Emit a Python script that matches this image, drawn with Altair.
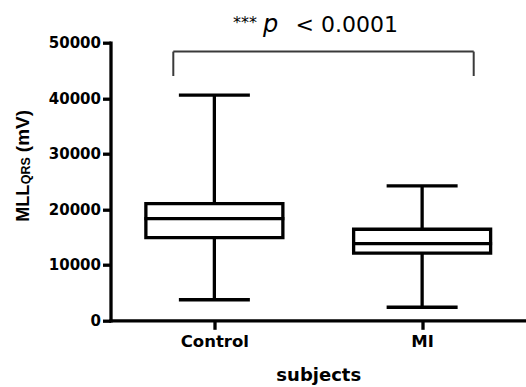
import altair as alt
import pandas as pd

groups = ["Control", "MI"]
mins = [3700, 2350]
q1s = [14900, 12100]
meds = [18300, 13800]
q3s = [21000, 16400]
maxs = [40550, 24200]

y_ticks = [0, 10000, 20000, 30000, 40000, 50000]
bracket_top = 48400
bracket_bottom = 44000

df = pd.DataFrame({"group": groups, "mn": mins, "q1": q1s, "med": meds, "q3": q3s, "mx": maxs})

W = 415.5
H = 277.6
LW = 3.3

xenc = alt.X("group:N", sort=groups,
             scale=alt.Scale(type="point", padding=0.5),
             axis=alt.Axis(title="subjects", labelAngle=0, labelFont="DejaVu Sans",
                           labelFontWeight="bold", labelFontSize=16.5, labelPadding=4,
                           tickSize=9, tickWidth=LW, tickColor="black",
                           domainWidth=LW, domainColor="black", domainCap="square",
                           titleFont="DejaVu Sans", titleFontWeight="bold", titleFontSize=18,
                           titleY=59.7, titleBaseline="alphabetic", grid=False, labelColor="black",
                           titleColor="black"))
yscale = alt.Scale(domain=[0, 50000], nice=False)
yaxis = alt.Axis(title=None, values=y_ticks, format="d", labelFont="DejaVu Sans",
                 labelFontWeight="bold", labelFontSize=15, labelPadding=2,
                 tickSize=8, tickWidth=LW, tickColor="black", domainWidth=LW,
                 domainColor="black", domainCap="square", grid=False, labelColor="black")

base = alt.Chart(df)

whisk_lo = base.mark_rule(color="black", strokeWidth=LW).encode(
    x=xenc, y=alt.Y("mn:Q", scale=yscale, axis=yaxis), y2="q1:Q")
whisk_hi = base.mark_rule(color="black", strokeWidth=LW).encode(
    x=alt.X("group:N", sort=groups), y=alt.Y("q3:Q"), y2="mx:Q")
box = base.mark_bar(size=137, fill="white", stroke="black", strokeWidth=LW).encode(
    x=alt.X("group:N", sort=groups), y=alt.Y("q1:Q"), y2="q3:Q")
med = base.mark_tick(size=140, thickness=LW, color="black", opacity=1).encode(
    x=alt.X("group:N", sort=groups), y=alt.Y("med:Q"))
cap_lo = base.mark_tick(size=71, thickness=LW, color="black", opacity=1).encode(
    x=alt.X("group:N", sort=groups), y=alt.Y("mn:Q"))
cap_hi = base.mark_tick(size=71, thickness=LW, color="black", opacity=1).encode(
    x=alt.X("group:N", sort=groups), y=alt.Y("mx:Q"))

one = pd.DataFrame({"a": [0]})
BR = "#3a3a3a"
br_h = alt.Chart(one).mark_rule(color=BR, strokeWidth=2).encode(
    x=alt.value(62.8), x2=alt.value(363.2), y=alt.datum(bracket_top))
br_l = alt.Chart(one).mark_rule(color=BR, strokeWidth=2).encode(
    x=alt.value(62.8), y=alt.datum(bracket_top), y2=alt.datum(bracket_bottom))
br_r = alt.Chart(one).mark_rule(color=BR, strokeWidth=2).encode(
    x=alt.value(363.2), y=alt.datum(bracket_top), y2=alt.datum(bracket_bottom))

stars = alt.Chart(one).mark_text(text="***", font="DejaVu Sans", fontSize=16, align="right",
                                 baseline="alphabetic", color="black").encode(
    x=alt.value(146.5), y=alt.value(-15.2))
ptxt = alt.Chart(one).mark_text(text="p", font="DejaVu Sans", fontStyle="italic", fontSize=24,
                                align="left", baseline="alphabetic", color="black").encode(
    x=alt.value(152.5), y=alt.value(-10.7))
pval = alt.Chart(one).mark_text(text="< 0.0001", font="DejaVu Sans", fontSize=22,
                                align="left", baseline="alphabetic", color="black").encode(
    x=alt.value(185), y=alt.value(-10.7))

yt1 = alt.Chart(one).mark_text(text="MLL", font="Liberation Sans", fontWeight="bold", fontSize=18,
                               angle=270, align="left", baseline="alphabetic", color="black").encode(
    x=alt.value(-81.2), y=alt.value(179))
yt2 = alt.Chart(one).mark_text(text="QRS", font="Liberation Sans", fontWeight="bold", fontSize=12.5,
                               angle=270, align="left", baseline="alphabetic", color="black").encode(
    x=alt.value(-80.3), y=alt.value(141.5))
yt3 = alt.Chart(one).mark_text(text="(mV)", font="Liberation Sans", fontWeight="bold", fontSize=19,
                               angle=270, align="left", baseline="alphabetic", color="black").encode(
    x=alt.value(-81.2), y=alt.value(109.5))

chart = alt.layer(whisk_lo, whisk_hi, box, med, cap_lo, cap_hi, br_h, br_l, br_r,
                  stars, ptxt, pval, yt1, yt2, yt3).properties(
    width=W, height=H,
    autosize=alt.AutoSizeParams(type="none"),
    padding={"left": 110.5, "top": 42.7, "right": 0, "bottom": 66.7},
    background="white",
).configure_view(stroke=None)

chart.save("out.html", embed_options={"renderer": "svg", "actions": False})
